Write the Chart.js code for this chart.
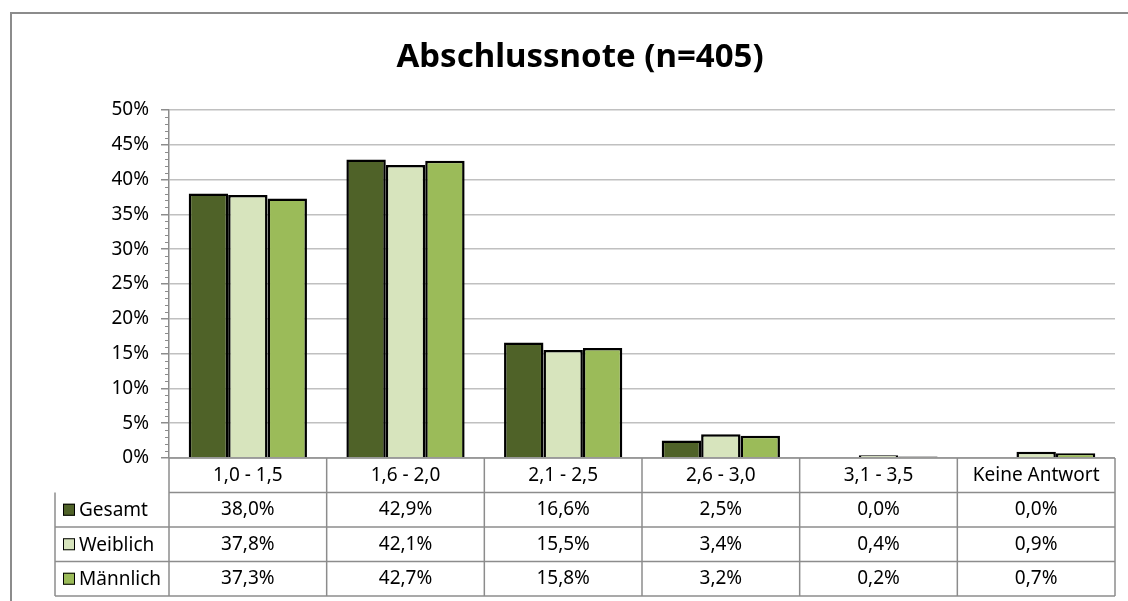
<!DOCTYPE html>
<html>
<head>
<meta charset="utf-8">
<script src="https://cdn.jsdelivr.net/npm/chart.js@4/dist/chart.umd.min.js"></script>
<style>
  html, body { margin: 0; padding: 0; background: #fff; }
  #wrap { width: 1128px; height: 601px; }
</style>
</head>
<body>
<div id="wrap"><canvas id="chart" width="1128" height="601"></canvas></div>
<script>
// Chart data
const categories = ['1,0 - 1,5', '1,6 - 2,0', '2,1 - 2,5', '2,6 - 3,0', '3,1 - 3,5', 'Keine Antwort'];
const gesamt = [38.0, 42.9, 16.6, 2.5, 0.0, 0.0];
const weiblich = [37.8, 42.1, 15.5, 3.4, 0.4, 0.9];
const maennlich = [37.3, 42.7, 15.8, 3.2, 0.2, 0.7];
const seriesNames = ['Gesamt', 'Weiblich', 'Männlich'];
const seriesColors = ['#4f6228', '#d7e4bd', '#9bbb59'];
const yTicks = [0, 5, 10, 15, 20, 25, 30, 35, 40, 45, 50];
const chartTitle = 'Abschlussnote (n=405)';

const FONT = '"Noto Sans", "Open Sans", sans-serif';
const lineGray = '#8c8c8c';

// Format value like Excel (German decimal comma)
function fmt(v) {
    return v.toFixed(1).replace('.', ',') + '%';
}

// Outer frame, title, minor ticks and data table below the plot
const tablePlugin = {
    id: 'dataTable',
    beforeDraw(chart) {
        const ctx = chart.ctx;
        ctx.save();
        ctx.fillStyle = '#fff';
        ctx.fillRect(0, 0, chart.width, chart.height);
        ctx.strokeStyle = lineGray;
        ctx.lineWidth = 2;
        ctx.strokeRect(11, 13, 1300, 800);

        // title (Excel centres it on the whole frame)
        ctx.fillStyle = '#000';
        ctx.font = 'bold 33px ' + FONT;
        ctx.textAlign = 'center';
        ctx.textBaseline = 'middle';
        ctx.fillText(chartTitle, 580, 58);
        ctx.restore();
    },
    afterDraw(chart) {
        const { ctx, chartArea, scales: { x, y } } = chart;
        const allSeries = [gesamt, weiblich, maennlich];
        const catW = (chartArea.right - chartArea.left) / categories.length;
        const top = chartArea.bottom;
        const rowH = 34.5;
        const legendLeft = 55;

        ctx.save();

        // minor ticks on y axis
        ctx.strokeStyle = lineGray;
        ctx.lineWidth = 1;
        for (let v = 0; v <= 50; v++) {
            if (v % 5 === 0) continue;
            const py = Math.round(y.getPixelForValue(v)) + 0.5;
            ctx.beginPath();
            ctx.moveTo(chartArea.left - 4, py);
            ctx.lineTo(chartArea.left, py);
            ctx.stroke();
        }

        // table lines
        ctx.strokeStyle = lineGray;
        ctx.lineWidth = 1.5;
        // header row
        ctx.beginPath();
        ctx.moveTo(chartArea.left, top + rowH);
        ctx.lineTo(chartArea.right, top + rowH);
        ctx.stroke();
        // data rows
        for (let r = 1; r <= 3; r++) {
            const py = top + rowH * (r + 1);
            ctx.beginPath();
            ctx.moveTo(legendLeft, py);
            ctx.lineTo(chartArea.right, py);
            ctx.stroke();
        }
        ctx.beginPath();
        ctx.moveTo(legendLeft, top + rowH);
        ctx.lineTo(legendLeft, top + rowH * 4);
        ctx.stroke();
        for (let i = 0; i <= categories.length; i++) {
            const px = chartArea.left + catW * i;
            ctx.beginPath();
            ctx.moveTo(px, top);
            ctx.lineTo(px, top + rowH * 4);
            ctx.stroke();
        }
        // x axis line
        ctx.beginPath();
        ctx.moveTo(chartArea.left, top);
        ctx.lineTo(chartArea.right, top);
        ctx.stroke();

        // texts
        ctx.fillStyle = '#000';
        ctx.font = '19px ' + FONT;
        ctx.textBaseline = 'middle';
        ctx.textAlign = 'center';
        categories.forEach((c, i) => {
            ctx.fillText(c, x.getPixelForValue(i), top + rowH / 2);
        });
        allSeries.forEach((s, r) => {
            const cy = top + rowH * (r + 1) + rowH / 2;
            s.forEach((v, i) => {
                ctx.fillText(fmt(v), x.getPixelForValue(i), cy);
            });
        });

        // legend keys
        ctx.textAlign = 'left';
        seriesNames.forEach((name, r) => {
            const cy = top + rowH * (r + 1) + rowH / 2;
            ctx.fillStyle = seriesColors[r];
            ctx.fillRect(63, cy - 6, 12, 12);
            ctx.strokeStyle = '#000';
            ctx.lineWidth = 1;
            ctx.strokeRect(63.5, cy - 5.5, 11, 11);
            ctx.fillStyle = '#000';
            ctx.fillText(name, 79, cy + 1);
        });

        ctx.restore();
    }
};

const datasets = [gesamt, weiblich, maennlich].map((data, i) => ({
    label: seriesNames[i],
    data: data,
    backgroundColor: seriesColors[i],
    borderColor: '#000',
    borderWidth: 2.5,
    categoryPercentage: 0.75,
    barPercentage: 1.0
}));

new Chart(document.getElementById('chart'), {
    type: 'bar',
    data: { labels: categories, datasets: datasets },
    options: {
        responsive: false,
        animation: false,
        layout: { padding: { left: 0, right: 13, top: 110, bottom: 143 } },
        plugins: {
            legend: { display: false },
            tooltip: { enabled: false },
            title: { display: false }
        },
        scales: {
            x: { display: false },
            y: {
                min: 0,
                max: 50,
                afterFit(scale) { scale.width = 169; },
                afterBuildTicks(scale) {
                    scale.ticks = yTicks.map(v => ({ value: v }));
                },
                ticks: {
                    color: '#000',
                    font: { family: FONT, size: 19 },
                    padding: 12,
                    callback: v => v + '%'
                },
                grid: {
                    color: '#c0c0c0',
                    lineWidth: 1.5,
                    tickColor: lineGray,
                    tickLength: 8
                },
                border: { color: lineGray, width: 1.5 }
            }
        }
    },
    plugins: [tablePlugin]
});
</script>
</body>
</html>
